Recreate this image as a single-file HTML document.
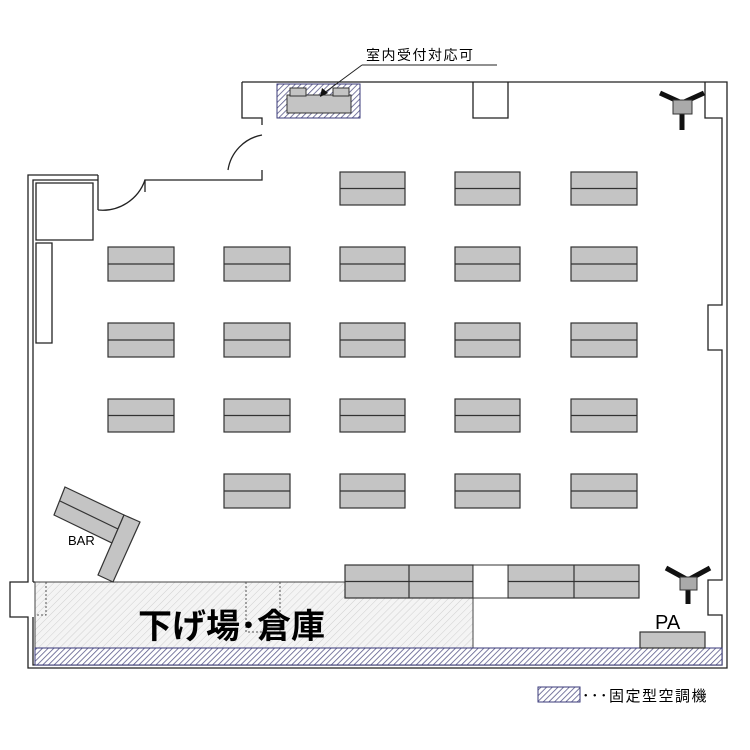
<!DOCTYPE html>
<html><head><meta charset="utf-8"><style>body{margin:0;background:#fff}svg{display:block}</style></head><body>
<svg width="750" height="750" viewBox="0 0 750 750" xmlns="http://www.w3.org/2000/svg" font-family="'Liberation Sans','Noto Sans CJK JP',sans-serif">
<defs>
<pattern id="hb" width="4" height="4" patternUnits="userSpaceOnUse" patternTransform="rotate(45)"><rect width="4" height="4" fill="#fff"/><line x1="0" y1="0" x2="0" y2="4" stroke="#5a5a8a" stroke-width="1.6"/></pattern>
<pattern id="hl" width="5" height="5" patternUnits="userSpaceOnUse" patternTransform="rotate(45)"><rect width="5" height="5" fill="#f4f4f4"/><line x1="0" y1="0" x2="0" y2="5" stroke="#d0d0d0" stroke-width="1"/></pattern>
</defs>
<g fill="none" stroke="#222" stroke-width="1.3">
<!-- outer outline -->
<path d="M242,82 H727 V668 H28 V617 H10 V582 H28 V175 H98"/>
<!-- inner lines -->
<path d="M242,82 V118 H262 V125"/>
<path d="M262,170 V180 H145 V192"/>
<path d="M98,175 V210"/>
<path d="M473,82 V118 H508 V82"/>
<path d="M705,82 V118 H722 V305 H708 V350 H722 V580 H708 V615 H722 V665 H33 V617 M33,582 V180 H98"/>
<path d="M35,582 H33"/>
<path d="M36,183 H93 V240 H36 Z M36,243 H52 V343 H36 Z"/>
<path d="M228,170 A42,42 0 0 1 262,135"/>
<path d="M98,210 A45,45 0 0 0 145,180"/>
</g>
<!-- reception -->
<rect x="277" y="84" width="83" height="34" fill="url(#hb)" stroke="#3a3a7a"/>
<rect x="287" y="95" width="64" height="18" fill="#c4c4c4" stroke="#333"/>
<rect x="290" y="88" width="16" height="8" fill="#c4c4c4" stroke="#333"/>
<rect x="333" y="88" width="16" height="8" fill="#c4c4c4" stroke="#333"/>
<text x="366" y="60" font-size="14" letter-spacing="1.5">室内受付対応可</text>
<path d="M362,65 H497 M362,65 L320,96" stroke="#222" fill="none"/>
<path d="M320,97 L322,88 L328,93 Z" fill="#111"/>
<!-- storage -->
<rect x="35" y="582" width="438" height="66" fill="url(#hl)" stroke="#444"/>
<path d="M46,582 V615 H35 M246,582 V632 H280 V582" stroke="#555" stroke-dasharray="2,2" fill="none"/>
<text x="138" y="638" font-size="34" font-weight="bold">下げ場･倉庫</text>
<rect x="35" y="648" width="687" height="17" fill="url(#hb)" stroke="#3a3a7a"/>
<!-- tables -->
<g fill="#c4c4c4" stroke="#333" stroke-width="1.2">
<rect x="340" y="172" width="65" height="33"/><rect x="455" y="172" width="65" height="33"/><rect x="571" y="172" width="66" height="33"/>
<rect x="108" y="247" width="66" height="34"/><rect x="224" y="247" width="66" height="34"/><rect x="340" y="247" width="65" height="34"/><rect x="455" y="247" width="65" height="34"/><rect x="571" y="247" width="66" height="34"/>
<rect x="108" y="323" width="66" height="34"/><rect x="224" y="323" width="66" height="34"/><rect x="340" y="323" width="65" height="34"/><rect x="455" y="323" width="65" height="34"/><rect x="571" y="323" width="66" height="34"/>
<rect x="108" y="399" width="66" height="33"/><rect x="224" y="399" width="66" height="33"/><rect x="340" y="399" width="65" height="33"/><rect x="455" y="399" width="65" height="33"/><rect x="571" y="399" width="66" height="33"/>
<rect x="224" y="474" width="66" height="34"/><rect x="340" y="474" width="65" height="34"/><rect x="455" y="474" width="65" height="34"/><rect x="571" y="474" width="66" height="34"/>
<rect x="345" y="565" width="128" height="33"/><rect x="508" y="565" width="131" height="33"/>
<rect x="640" y="632" width="65" height="16"/>
<polygon points="65,487 124,515 112,543 54,515"/>
<polygon points="124,515 140,522 113,582 98,575"/>
</g>
<g stroke="#333" stroke-width="1.2">
<path d="M340,188.5 h65 M455,188.5 h65 M571,188.5 h66 M108,264 h66 M224,264 h66 M340,264 h65 M455,264 h65 M571,264 h66 M108,340 h66 M224,340 h66 M340,340 h65 M455,340 h65 M571,340 h66 M108,415.5 h66 M224,415.5 h66 M340,415.5 h65 M455,415.5 h65 M571,415.5 h66 M224,491 h66 M340,491 h65 M455,491 h65 M571,491 h66 M345,581.5 h128 M508,581.5 h131 M409,565 v33 M574,565 v33 M60,501 L118,529"/>
</g>
<rect x="473" y="565" width="35" height="33" fill="#fff" stroke="#333"/>
<text x="68" y="545" font-size="13">BAR</text>
<text x="655" y="629" font-size="20">PA</text>
<!-- speakers -->
<g>
<path d="M660,93 L682,103 M704,93 L682,103 M682,110 V130" stroke="#111" stroke-width="5"/>
<rect x="673" y="100" width="19" height="14" fill="#aaa" stroke="#333"/>
<path d="M666,568 L688,580 M710,568 L688,580 M688,586 V604" stroke="#111" stroke-width="5"/>
<rect x="680" y="577" width="17" height="13" fill="#aaa" stroke="#333"/>
</g>
<!-- legend -->
<rect x="538" y="687" width="42" height="15" fill="url(#hb)" stroke="#3a3a7a"/>
<text x="582" y="701" font-size="15" letter-spacing="1.5">･･･固定型空調機</text>
</svg>
</body></html>
